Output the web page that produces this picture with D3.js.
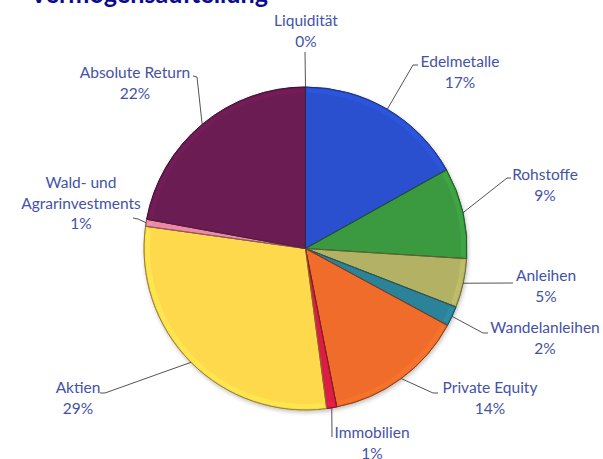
<!DOCTYPE html>
<html><head><meta charset="utf-8">
<script src="https://cdn.jsdelivr.net/npm/d3@7"></script>
<style>html,body{margin:0;padding:0;background:#fff;}svg{display:block;}</style>
</head><body>
<svg id="c" width="603" height="459"></svg>
<script>
const categories = ["Liquidität","Edelmetalle","Rohstoffe","Anleihen","Wandelanleihen","Private Equity","Immobilien","Aktien","Wald- und Agrarinvestments","Absolute Return"];
const values = [0, 16.9, 9.1, 4.9, 2.0, 14.0, 1.0, 29.3, 0.7, 22.1];
const percentLabels = ["0%","17%","9%","5%","2%","14%","1%","29%","1%","22%"];
const colors = ["#8fa8d8","#2a50cf","#3a9a40","#b3b163","#2b8398","#f06c2c","#dd1f45","#fed94c","#ef88a6","#6b1a52"];
const titleText = "Vermögensaufteilung";

// label layout (center x, first baseline y, wrapped lines, leader anchor)
const labelLayout = [
  {x:306,y:26,lines:["Liquidität"],anchor:[305,52],tick:null},
  {x:460,y:67,lines:["Edelmetalle"],anchor:[413,65],tick:[418,65]},
  {x:545,y:180,lines:["Rohstoffe"],anchor:[507,178],tick:[511,178]},
  {x:546,y:281,lines:["Anleihen"],anchor:[513,283],tick:null},
  {x:545,y:333,lines:["Wandelanleihen"],anchor:[483,333],tick:[488,333]},
  {x:490,y:393,lines:["Private Equity"],anchor:[433,393],tick:[438,393]},
  {x:372,y:438,lines:["Immobilien"],anchor:[332,437],tick:null},
  {x:78,y:393,lines:["Aktien"],anchor:[105,393],tick:[100,393]},
  {x:81,y:188,lines:["Wald- und","Agrarinvestments"],anchor:[138,219],tick:[133,218]},
  {x:135,y:78,lines:["Absolute Return"],anchor:[197,77],tick:[193,76]}
];

const svg = d3.select("#c");
const cx = 305.5, cy = 248.5, r = 161.5;

svg.append("text").attr("x",30).attr("y",3).attr("font-family","Lato, 'Open Sans', sans-serif")
  .attr("font-weight","bold").attr("font-size",26).attr("fill","#0b0b8c")
  .attr("textLength",238).attr("lengthAdjust","spacingAndGlyphs").text(titleText);

const defs = svg.append("defs");
const sh = defs.append("filter").attr("id","sh").attr("x","-10%").attr("y","-10%").attr("width","120%").attr("height","120%");
sh.append("feGaussianBlur").attr("in","SourceAlpha").attr("stdDeviation",2).attr("result","b");
sh.append("feOffset").attr("dx",1).attr("dy",2).attr("result","o");
sh.append("feComponentTransfer").append("feFuncA").attr("type","linear").attr("slope",0.25);
const fm = sh.append("feMerge"); fm.append("feMergeNode"); fm.append("feMergeNode").attr("in","SourceGraphic");

const pie = d3.pie().sort(null).value(d=>d);
const arcs = pie(values);
const arc = d3.arc().innerRadius(0).outerRadius(r);
const rimArc = d3.arc().innerRadius(r-6).outerRadius(r-1.5);

const g = svg.append("g").attr("transform",`translate(${cx},${cy})`);
const gp = g.append("g").attr("filter","url(#sh)");
gp.selectAll("path.s").data(arcs).join("path").attr("class","s")
  .attr("d",arc).attr("fill",(d,i)=>colors[i])
  .attr("stroke",(d,i)=>d3.color(colors[i]).darker(1.2)).attr("stroke-width",1)
  .attr("stroke-linejoin","round");
// bevel highlight along rim
g.selectAll("path.rim").data(arcs.filter(d=>d.endAngle-d.startAngle>0.03)).join("path").attr("class","rim")
  .attr("d",d=>rimArc({startAngle:d.startAngle+0.012,endAngle:d.endAngle-0.012}))
  .attr("fill",d=>d3.color(colors[d.index]).brighter(0.5)).attr("opacity",0.35);
// inner dark edge
g.selectAll("path.edge").data(arcs).join("path").attr("class","edge")
  .attr("d",arc).attr("fill","none")
  .attr("stroke",(d,i)=>d3.color(colors[i]).darker(1.6)).attr("stroke-width",0.8).attr("opacity",0.7);

// leader lines
const lg = svg.append("g");
arcs.forEach((d,i)=>{
  const L = labelLayout[i];
  const mid = (d.startAngle+d.endAngle)/2;
  const px = cx + Math.sin(mid)*r, py = cy - Math.cos(mid)*r;
  const pts = [];
  if (L.tick) pts.push(L.tick);
  pts.push(L.anchor); pts.push([px,py]);
  lg.append("path").attr("d",d3.line()(pts)).attr("fill","none").attr("stroke","#404040").attr("stroke-width",0.9);
});

// labels
const tg = svg.append("g").attr("font-family","Lato, 'Open Sans', sans-serif").attr("font-size",15.5).attr("fill","#4452a6").attr("text-anchor","middle");
labelLayout.forEach((L,i)=>{
  const lines = L.lines.concat([percentLabels[i]]);
  lines.forEach((t,j)=>{
    tg.append("text").attr("x",L.x).attr("y",L.y+j*20.5).text(t);
  });
});
</script>
</body></html>
